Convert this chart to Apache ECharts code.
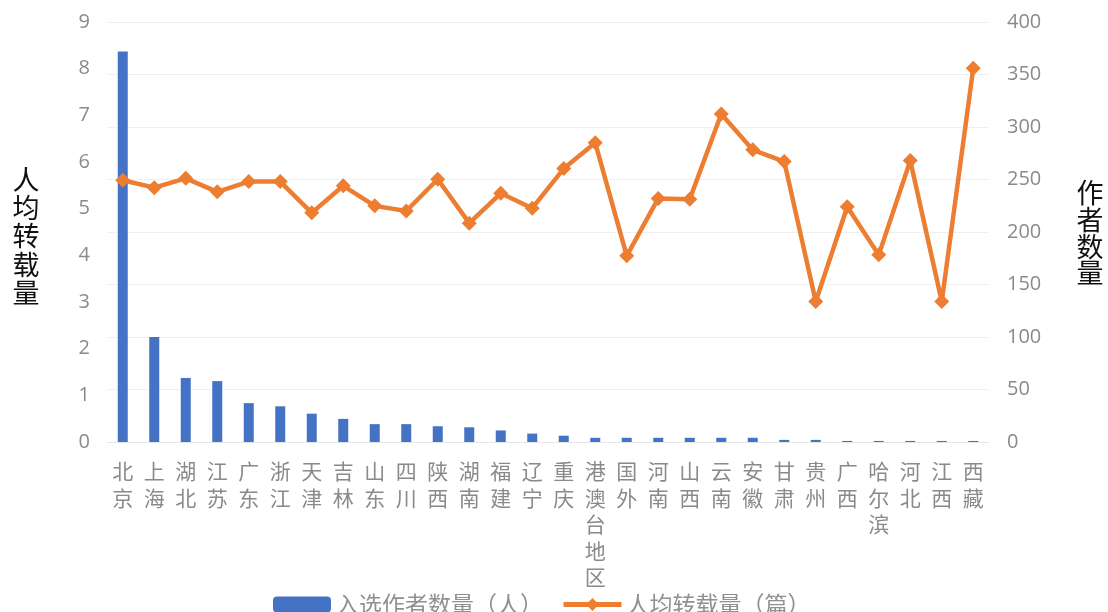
<!DOCTYPE html>
<html>
<head>
<meta charset="utf-8">
<script src="https://cdn.jsdelivr.net/npm/echarts@6/dist/echarts.min.js"></script>
<style>
html,body{margin:0;padding:0;background:#fff;}
#chart{width:1108px;height:612px;}
</style>
</head>
<body>
<div id="chart"></div>
<script>
const categories = ['北京','上海','湖北','江苏','广东','浙江','天津','吉林','山东','四川','陕西','湖南','福建','辽宁','重庆','港澳台地区','国外','河南','山西','云南','安徽','甘肃','贵州','广西','哈尔滨','河北','江西','西藏'];
const authorCounts = [372,100,61,58,37,34,27,22,17,17,15,14,11,8,6,4,4,4,4,4,4,2,2,1,1,1,1,1];
const avgReprints = [5.61,5.45,5.65,5.36,5.58,5.58,4.91,5.49,5.06,4.95,5.63,4.69,5.33,5.01,5.86,6.41,3.99,5.22,5.2,7.03,6.26,6.01,3.01,5.04,4.01,6.03,3.01,8.01];
const leftTicks = [0,1,2,3,4,5,6,7,8,9];
const rightTicks = [0,50,100,150,200,250,300,350,400];
const seriesNames = ['入选作者数量（人）','人均转载量（篇）'];
const leftAxisTitle = '人均转载量';
const rightAxisTitle = '作者数量';

const chart = echarts.init(document.getElementById('chart'), null, {renderer:'canvas'});
const labelGray = '#8a8a8a';
const numFont = '"Open Sans", "Liberation Sans", sans-serif';
const cjkFont = '"Noto Sans CJK SC", sans-serif';

chart.setOption({
  backgroundColor: '#ffffff',
  animation: false,
  grid: {left: 107, right: 119, top: 22, bottom: 170, containLabel: false},
  legend: {
    data: seriesNames,
    left: 268,
    top: 588,
    itemWidth: 58,
    itemHeight: 16,
    itemGap: 18,
    lineStyle: {width: 5},
    textStyle: {color: '#909090', fontSize: 23, fontFamily: cjkFont, padding: [0,0,0,0]}
  },
  xAxis: {
    type: 'category',
    data: categories,
    boundaryGap: true,
    axisLine: {show: true, lineStyle: {color: '#e6e6e6', width: 1}},
    axisTick: {show: false},
    axisLabel: {
      interval: 0,
      margin: 16,
      color: labelGray,
      fontSize: 21,
      lineHeight: 26.5,
      fontFamily: cjkFont,
      formatter: v => v.split('').join('\n')
    },
    splitLine: {show: false}
  },
  yAxis: [
    {
      type: 'value',
      position: 'left',
      min: leftTicks[0],
      max: leftTicks[leftTicks.length-1],
      interval: 1,
      axisLine: {show: false},
      axisTick: {show: false},
      splitLine: {show: false},
      axisLabel: {color: labelGray, fontSize: 20, fontFamily: numFont, margin: 17}
    },
    {
      type: 'value',
      position: 'right',
      min: rightTicks[0],
      max: rightTicks[rightTicks.length-1],
      interval: 50,
      axisLine: {show: false},
      axisTick: {show: false},
      splitLine: {show: true, lineStyle: {color: '#f0f0f0', width: 1}},
      axisLabel: {color: labelGray, fontSize: 20, fontFamily: numFont, margin: 18}
    }
  ],
  series: [
    {
      name: seriesNames[0],
      type: 'bar',
      yAxisIndex: 1,
      data: authorCounts,
      barWidth: 10,
      itemStyle: {color: '#4472C4'},
      z: 2
    },
    {
      name: seriesNames[1],
      type: 'line',
      yAxisIndex: 0,
      data: avgReprints,
      symbol: 'diamond',
      symbolSize: 15,
      lineStyle: {color: '#ED7D31', width: 4.5},
      itemStyle: {color: '#ED7D31'},
      z: 3
    }
  ],
  graphic: [
    {
      type: 'text',
      x: 26, y: 236,
      style: {
        text: leftAxisTitle.split('').join('\n'),
        fill: '#111',
        font: '27px ' + cjkFont,
        lineHeight: 28.3,
        textAlign: 'center',
        textVerticalAlign: 'middle'
      }
    },
    {
      type: 'text',
      x: 1090, y: 233,
      style: {
        text: rightAxisTitle.split('').join('\n'),
        fill: '#111',
        font: '27px ' + cjkFont,
        lineHeight: 26.7,
        textAlign: 'center',
        textVerticalAlign: 'middle'
      }
    }
  ]
});
</script>
</body>
</html>
